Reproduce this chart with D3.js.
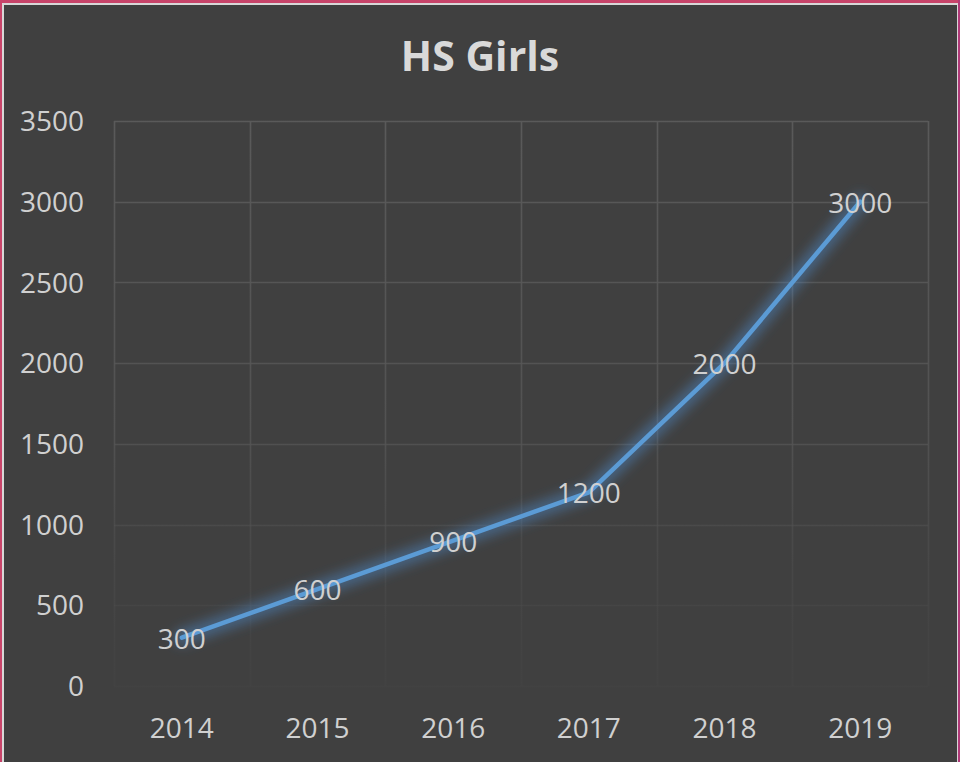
<!DOCTYPE html>
<html><head><meta charset="utf-8">
<script src="https://cdn.jsdelivr.net/npm/d3@7"></script>
<style>
html,body{margin:0;padding:0;background:#c8446a;}
svg{display:block;}
</style></head>
<body>
<svg id="chart" width="960" height="762"></svg>
<script>
const title = "HS Girls";
const categories = ["2014","2015","2016","2017","2018","2019"];
const values = [300, 600, 900, 1200, 2000, 3000];
const yTicks = [0, 500, 1000, 1500, 2000, 2500, 3000, 3500];

const svg = d3.select("#chart");
const W = 960, H = 762;
const font = "'Open Sans', Lato, sans-serif";

// frame
svg.append("rect").attr("x",0).attr("y",0).attr("width",W).attr("height",H).attr("fill","#c8446a");
svg.append("rect").attr("x",958).attr("y",0).attr("width",2).attr("height",H).attr("fill","#b03a78");
svg.append("rect").attr("x",2).attr("y",3).attr("width",956).attr("height",H).attr("fill","#d8d8d8");
svg.append("rect").attr("x",4).attr("y",5).attr("width",953).attr("height",H).attr("fill","#404040");

const plot = {left:114, right:928, top:121, bottom:686};
const x = d3.scaleBand().domain(categories).range([plot.left, plot.right]).padding(0);
const y = d3.scaleLinear().domain([0,3500]).range([plot.bottom, plot.top]);

const defs = svg.append("defs");
const grad = defs.append("linearGradient").attr("id","gridFade")
  .attr("gradientUnits","userSpaceOnUse").attr("x1",0).attr("x2",0)
  .attr("y1",plot.top).attr("y2",plot.bottom);
grad.append("stop").attr("offset","0%").attr("stop-color","#5a5a5a").attr("stop-opacity",1);
grad.append("stop").attr("offset","55%").attr("stop-color","#555555").attr("stop-opacity",0.85);
grad.append("stop").attr("offset","100%").attr("stop-color","#4a4a4a").attr("stop-opacity",0.2);

const glow = defs.append("filter").attr("id","glow").attr("x","-20%").attr("y","-20%").attr("width","140%").attr("height","140%");
glow.append("feGaussianBlur").attr("stdDeviation",6);

// gridlines
const g = svg.append("g");
g.selectAll("line.h").data(yTicks).join("line").attr("class","h")
  .attr("x1",plot.left).attr("x2",plot.right)
  .attr("y1",d=>Math.round(y(d))+0.5).attr("y2",d=>Math.round(y(d))+0.5)
  .attr("stroke","url(#gridFade)").attr("stroke-width",1.6);
const xEdges = categories.map(c=>x(c)).concat([plot.right]);
g.selectAll("line.v").data(xEdges).join("line").attr("class","v")
  .attr("x1",d=>Math.round(d)+0.5).attr("x2",d=>Math.round(d)+0.5)
  .attr("y1",plot.top).attr("y2",plot.bottom)
  .attr("stroke","url(#gridFade)").attr("stroke-width",1.6);

// y axis labels
svg.append("g").selectAll("text").data(yTicks).join("text")
  .attr("x",84).attr("y",d=>y(d)).attr("dy","0.36em")
  .attr("text-anchor","end").attr("fill","#d0d0d0")
  .style("font-family",font).style("font-size","28px")
  .text(d=>d);

// x axis labels
svg.append("g").selectAll("text").data(categories).join("text")
  .attr("x",d=>x(d)+x.bandwidth()/2).attr("y",728).attr("dy","0.36em")
  .attr("text-anchor","middle").attr("fill","#d0d0d0")
  .style("font-family",font).style("font-size","28px")
  .text(d=>d);

// title
svg.append("text").attr("x",480).attr("y",56).attr("dy","0.36em")
  .attr("text-anchor","middle").attr("fill","#d9d9d9")
  .style("font-family",font).style("font-weight","bold").style("font-size","41px")
  .text(title);

const pts = categories.map((c,i)=>({c, v:values[i]}));
const line = d3.line().x(d=>x(d.c)+x.bandwidth()/2).y(d=>y(d.v));

svg.append("path").datum(pts).attr("d",line)
  .attr("fill","none").attr("stroke","#4f8fd0").attr("stroke-opacity",0.45)
  .attr("stroke-width",16).attr("stroke-linejoin","round").attr("stroke-linecap","round")
  .attr("filter","url(#glow)");
svg.append("path").datum(pts).attr("d",line)
  .attr("fill","none").attr("stroke","#5b9bd5")
  .attr("stroke-width",4.5).attr("stroke-linejoin","round").attr("stroke-linecap","round");

// data labels
svg.append("g").selectAll("text").data(pts).join("text")
  .attr("x",d=>x(d.c)+x.bandwidth()/2).attr("y",d=>y(d.v)+1).attr("dy","0.36em")
  .attr("text-anchor","middle").attr("fill","#d0d0d0")
  .style("font-family",font).style("font-size","28px")
  .text(d=>d.v);
</script>
</body></html>
